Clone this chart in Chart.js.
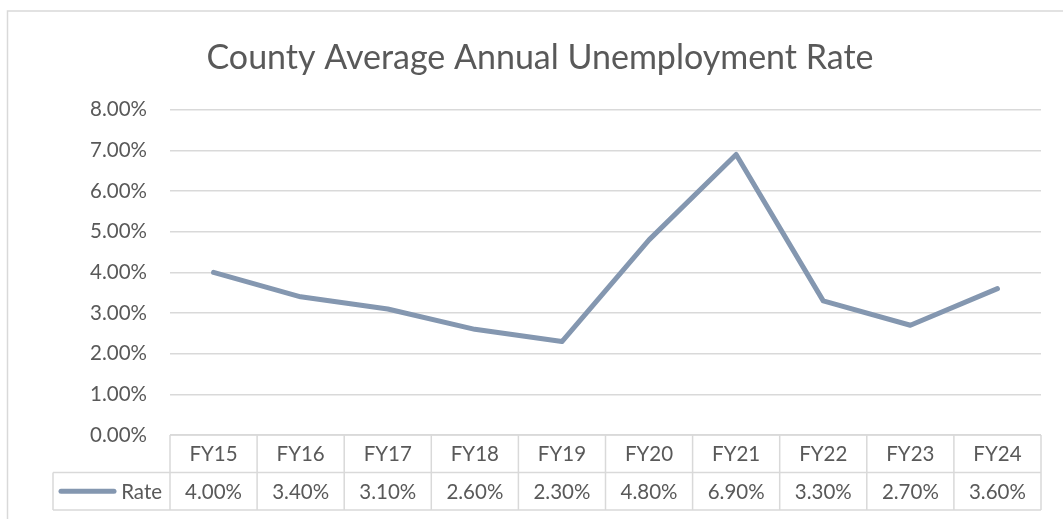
<!DOCTYPE html>
<html lang="en">
<head>
    <meta charset="UTF-8">
    <title>County Average Annual Unemployment Rate</title>
    <script src="https://cdn.jsdelivr.net/npm/chart.js"></script>
    <style>
        html, body { margin: 0; padding: 0; background: #fff; }
        #wrap { width: 1063px; height: 519px; }
    </style>
</head>
<body>
    <div id="wrap"><canvas id="rateChart" width="1063" height="519"></canvas></div>
    <script>
        // chart values
        const categories = ['FY15', 'FY16', 'FY17', 'FY18', 'FY19', 'FY20', 'FY21', 'FY22', 'FY23', 'FY24'];
        const rates = [4.00, 3.40, 3.10, 2.60, 2.30, 4.80, 6.90, 3.30, 2.70, 3.60];
        const seriesName = 'Rate';
        const yTicks = [0, 1, 2, 3, 4, 5, 6, 7, 8];

        const textColor = '#595959';
        const gridColor = '#d9d9d9';
        const lineColor = '#8497b0';
        const fontFamily = 'Lato, "Open Sans", sans-serif';

        // outer chart border + data table under the x axis
        const tablePlugin = {
            id: 'dataTable',
            beforeDraw(chart) {
                const ctx = chart.ctx;
                ctx.save();
                ctx.strokeStyle = gridColor;
                ctx.lineWidth = 1.5;
                ctx.strokeRect(7.5, 11, 1200, 700);
                ctx.restore();
            },
            afterDraw(chart) {
                const { ctx, chartArea, scales } = chart;
                const x = scales.x;
                const half = (x.getPixelForValue(1) - x.getPixelForValue(0)) / 2;
                const top = chartArea.bottom;
                const rowH = 37.5;
                const legendLeft = 53;
                const left = x.getPixelForValue(0) - half;
                const right = x.getPixelForValue(categories.length - 1) + half;

                ctx.save();
                ctx.strokeStyle = gridColor;
                ctx.lineWidth = 1.5;
                ctx.beginPath();
                // horizontal lines
                ctx.moveTo(left, top); ctx.lineTo(right, top);
                ctx.moveTo(legendLeft, top + rowH); ctx.lineTo(right, top + rowH);
                ctx.moveTo(legendLeft, top + rowH * 2); ctx.lineTo(right, top + rowH * 2);
                // vertical lines
                ctx.moveTo(legendLeft, top + rowH); ctx.lineTo(legendLeft, top + rowH * 2);
                for (let i = 0; i <= categories.length; i++) {
                    const px = x.getPixelForValue(0) - half + i * half * 2;
                    ctx.moveTo(px, top); ctx.lineTo(px, top + rowH * 2);
                }
                ctx.stroke();

                ctx.fillStyle = textColor;
                ctx.font = '20.5px ' + fontFamily;
                ctx.textAlign = 'center';
                ctx.textBaseline = 'middle';
                categories.forEach((c, i) => {
                    const px = x.getPixelForValue(i);
                    ctx.fillText(c, px, top + rowH / 2 + 1);
                    ctx.fillText(rates[i].toFixed(2) + '%', px, top + rowH * 1.5 + 1);
                });

                // legend key
                ctx.strokeStyle = lineColor;
                ctx.lineWidth = 5;
                ctx.lineCap = 'round';
                ctx.beginPath();
                ctx.moveTo(61, top + rowH * 1.5);
                ctx.lineTo(114, top + rowH * 1.5);
                ctx.stroke();
                ctx.textAlign = 'right';
                ctx.fillText(seriesName, left - 8, top + rowH * 1.5 + 1);
                ctx.restore();
            }
        };

        const ctx = document.getElementById('rateChart').getContext('2d');
        const rateChart = new Chart(ctx, {
            type: 'line',
            data: {
                labels: categories,
                datasets: [{
                    label: seriesName,
                    data: rates,
                    borderColor: lineColor,
                    borderWidth: 5,
                    pointRadius: 0,
                    tension: 0,
                    borderCapStyle: 'round',
                    borderJoinStyle: 'round'
                }]
            },
            options: {
                responsive: false,
                animation: false,
                layout: { padding: { left: 39, right: 22, top: 0, bottom: 0 } },
                plugins: {
                    legend: { display: false },
                    tooltip: { enabled: false },
                    title: {
                        display: true,
                        text: 'County Average Annual Unemployment Rate',
                        color: textColor,
                        font: { family: fontFamily, size: 34, weight: 'normal' },
                        padding: { top: 38, bottom: 31 }
                    }
                },
                scales: {
                    x: {
                        offset: true,
                        grid: { display: false },
                        border: { display: false },
                        ticks: { display: false },
                        afterFit(scale) { scale.height = 84; }
                    },
                    y: {
                        min: 0,
                        max: 8,
                        afterBuildTicks(scale) { scale.ticks = yTicks.map(v => ({ value: v })); },
                        grid: { color: gridColor, lineWidth: 1.5, drawTicks: false },
                        border: { display: false },
                        ticks: {
                            color: textColor,
                            padding: 23,
                            font: { family: fontFamily, size: 20.5 },
                            callback: v => v.toFixed(2) + '%'
                        },
                        afterFit(scale) { scale.width = 131; }
                    }
                }
            },
            plugins: [tablePlugin]
        });
    </script>
</body>
</html>
